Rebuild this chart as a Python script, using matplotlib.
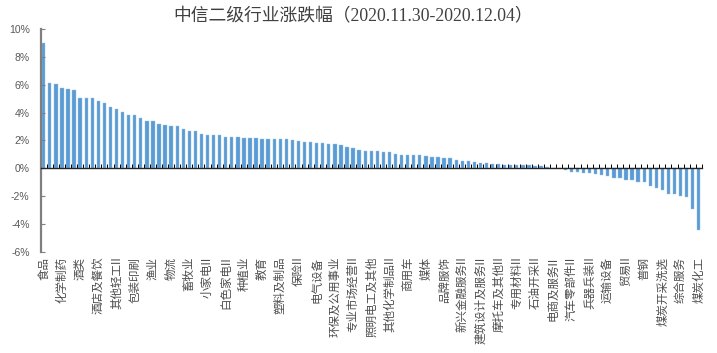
import matplotlib
matplotlib.use("Agg")
import matplotlib.pyplot as plt
import matplotlib.ticker as mticker

plt.rcParams['font.family'] = ['Liberation Sans', 'Noto Sans CJK SC']

# weekly change (%) of the CITIC level-2 industries, sorted high to low
values = [9.00, 6.12, 6.07, 5.80, 5.72, 5.65, 5.07, 5.05, 5.05, 4.83,
          4.70, 4.42, 4.28, 4.07, 3.87, 3.86, 3.64, 3.38, 3.37, 3.22,
          3.11, 3.05, 3.03, 2.83, 2.71, 2.68, 2.45, 2.43, 2.39, 2.36,
          2.26, 2.22, 2.22, 2.19, 2.19, 2.17, 2.12, 2.12, 2.10, 2.10,
          2.10, 2.07, 1.96, 1.91, 1.91, 1.81, 1.81, 1.76, 1.74, 1.71,
          1.55, 1.43, 1.33, 1.26, 1.26, 1.21, 1.19, 1.14, 1.04, 0.99,
          0.97, 0.97, 0.95, 0.90, 0.83, 0.78, 0.76, 0.73, 0.61, 0.55,
          0.49, 0.47, 0.40, 0.38, 0.31, 0.30, 0.27, 0.27, 0.25, 0.24,
          0.23, 0.19, 0.14, 0.08, 0.04, 0.01, -0.13, -0.30, -0.30, -0.32,
          -0.35, -0.42, -0.47, -0.52, -0.71, -0.73, -0.83, -0.83, -0.97, -0.99,
          -1.28, -1.40, -1.53, -1.88, -1.88, -2.00, -2.05, -2.94, -4.45]

# only every third category is labelled in the original
tick_labels = ['食品', '化学制药', '酒类', '酒店及餐饮', '其他轻工II', '包装印刷',
               '渔业', '物流', '畜牧业', '小家电II', '白色家电II', '种植业',
               '教育', '塑料及制品', '保险II', '电气设备', '环保及公用事业',
               '专业市场经营II', '照明电工及其他', '其他化学制品II', '商用车',
               '媒体', '品牌服饰', '新兴金融服务II', '建筑设计及服务II',
               '摩托车及其他II', '专用材料II', '石油开采II', '电商及服务II',
               '汽车零部件II', '兵器兵装II', '运输设备', '贸易II', '普钢',
               '煤炭开采洗选', '综合服务', '煤炭化工']
label_step = 3

title = '中信二级行业涨跌幅（2020.11.30-2020.12.04）'

fig = plt.figure(figsize=(7.17, 3.53), dpi=100)
ax = fig.add_axes([0.0568, 0.287, 0.922, 0.630])

x = list(range(len(values)))
ax.bar(x, values, width=0.55, color='#5B9BD5', edgecolor='#9DC3E6', linewidth=0.3)

ax.set_xlim(-0.5, len(values) - 0.5)
ax.set_ylim(-6, 10)
ax.yaxis.set_major_locator(mticker.MultipleLocator(2))
ax.yaxis.set_major_formatter(mticker.FuncFormatter(lambda v, p: '%d%%' % v))

ax.spines['top'].set_visible(False)
ax.spines['right'].set_visible(False)
ax.spines['left'].set_color('#7F7F7F')
ax.spines['left'].set_linewidth(1.6)
ax.spines['bottom'].set_position(('data', 0))
ax.spines['bottom'].set_color('#262626')
ax.spines['bottom'].set_linewidth(1.0)

# category boundary ticks on the zero line
ax.set_xticks([i - 0.5 for i in range(len(values) + 1)])
ax.set_xticklabels([])
ax.tick_params(axis='x', direction='in', length=3, width=0.7, color='#000000')
ax.tick_params(axis='y', direction='in', length=3, width=0.8, color='#7F7F7F',
               labelsize=7.5, labelcolor='#595959', pad=8)

for k, lab in enumerate(tick_labels):
    ax.text(k * label_step, -6.35, lab, rotation=90, ha='center', va='top',
            fontsize=8.3, color='#4D4D4D', family=['Noto Sans CJK SC', 'DejaVu Sans'])

fig.text(0.492, 0.952, title, ha='center', va='center', fontsize=12.8,
         color='#404040', family=['Liberation Serif', 'Noto Sans CJK SC'])

fig.savefig('out.png', dpi=100)
